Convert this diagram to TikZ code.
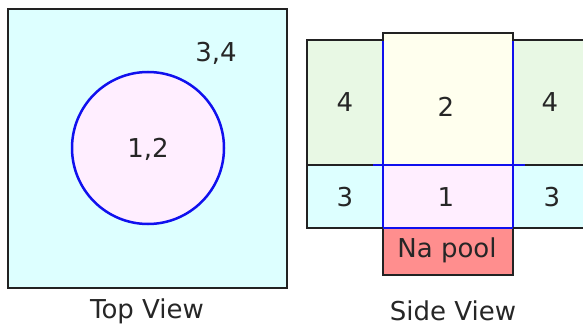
\documentclass[tikz,border=0pt]{standalone}
\usepackage{fontspec}
\setmainfont{DejaVu Sans}
\definecolor{cyanfill}{HTML}{DDFFFF}
\definecolor{pinkfill}{HTML}{FFEEFF}
\definecolor{greenfill}{HTML}{E8F8E4}
\definecolor{yellowfill}{HTML}{FFFFEE}
\definecolor{poolfill}{HTML}{FF8E8E}
\definecolor{bordergray}{HTML}{222222}
\definecolor{bluelin}{HTML}{1010EE}
\begin{document}
\begin{tikzpicture}[x=1pt,y=-1pt,
  lbl/.style={font=\fontsize{26}{30}\selectfont, text=black!85, inner sep=0pt},
  blk/.style={draw=bordergray, line width=2.5pt},
  blu/.style={draw=bluelin, line width=2.5pt}]
\useasboundingbox (0,0) rectangle (583,329);
% Top view
\fill[cyanfill] (8,9) rectangle (287,288);
\draw[blk] (8,9) rectangle (287,288);
\node[circle, minimum size=152pt, fill=pinkfill, blu, inner sep=0pt] (circ) at (148,148) {};
\node[lbl] (l12) at (148,149) {1,2};
\node[lbl] (l34) at (216,53) {3,4};
\node[lbl] (top) at (147,311) {Top View};
% Side view fills
\fill[greenfill] (307,40) rectangle (383,165);
\fill[greenfill] (513,40) rectangle (590,165);
\fill[yellowfill] (383,33) rectangle (513,165);
\fill[cyanfill] (307,165) rectangle (383,228);
\fill[cyanfill] (513,165) rectangle (590,228);
\fill[pinkfill] (383,165) rectangle (513,228);
\fill[poolfill] (383,228) rectangle (513,275);
% blue lines
\draw[blu] (383,40) -- (383,228);
\draw[blu] (513,40) -- (513,228);
\draw[blu] (373,165) -- (525,165);
% black outlines
\draw[blk] (383,40) -- (307,40) -- (307,228) -- (383,228);
\draw[blk] (513,228) -- (590,228);
\draw[blk] (513,40) -- (590,40);
\draw[blk] (383,41) -- (383,33) -- (513,33) -- (513,41);
\draw[blk] (383,228) -- (383,275) -- (513,275) -- (513,228);
\draw[blk] (307,165) -- (373,165);
\draw[blk] (525,165) -- (590,165);
\draw[blu] (383,228) -- (513,228);
% labels
\node[lbl] (s4l) at (345,102) {4};
\node[lbl] (s2) at (446,107) {2};
\node[lbl] (s4r) at (550,102) {4};
\node[lbl] (s3l) at (345,197) {3};
\node[lbl] (s1) at (446,197) {1};
\node[lbl] (s3r) at (552,197) {3};
\node[lbl] (pool) at (447,250) {Na pool};
\node[lbl] (side) at (453,311) {Side View};
\end{tikzpicture}
\end{document}
